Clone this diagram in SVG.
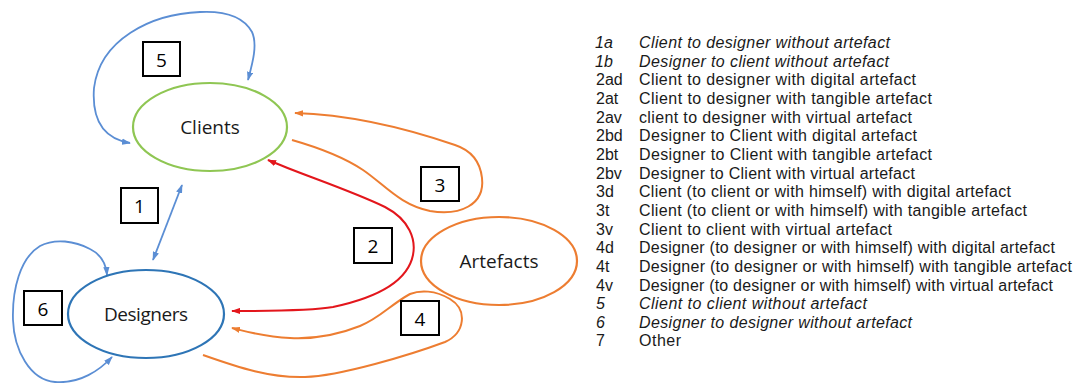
<svg xmlns="http://www.w3.org/2000/svg" width="1078" height="383" viewBox="0 0 1078 383">
<style>
.bg{fill:#ffffff}
.node{fill:none;stroke-width:2.2}
.lbl{font-family:"Open Sans","Liberation Sans",sans-serif;font-size:19px;fill:#1a1a1a;text-anchor:middle}
.box{fill:#ffffff;stroke:#000000;stroke-width:2}
.num{font-family:"Open Sans","Liberation Sans",sans-serif;font-size:19px;fill:#000000;text-anchor:middle}
.blue{fill:none;stroke:#5b8ed4;stroke-width:1.8}
.red{fill:none;stroke:#e3161c;stroke-width:2}
.orange{fill:none;stroke:#ed7d31;stroke-width:2}
.leg{font-family:"Liberation Sans",Arial,sans-serif;font-size:16px;fill:#1a1a1a}
.it{font-style:italic}
</style>
<defs>
<marker id="mb" viewBox="0 0 10 7" refX="9" refY="3.5" markerWidth="9" markerHeight="7" markerUnits="userSpaceOnUse" orient="auto-start-reverse"><path d="M0,0 L10,3.5 L0,7 z" fill="#5b8ed4"/></marker>
<marker id="mr" viewBox="0 0 10 7" refX="9" refY="3.5" markerWidth="9" markerHeight="7" markerUnits="userSpaceOnUse" orient="auto-start-reverse"><path d="M0,0 L10,3.5 L0,7 z" fill="#e3161c"/></marker>
<marker id="mo" viewBox="0 0 10 7" refX="9" refY="3.5" markerWidth="9" markerHeight="7" markerUnits="userSpaceOnUse" orient="auto-start-reverse"><path d="M0,0 L10,3.5 L0,7 z" fill="#ed7d31"/></marker>
</defs>
<rect class="bg" x="0" y="0" width="1078" height="383"/>

<g id="connectors">
<path id="c5" class="blue" d="M248,80 C252,65 258,45 252,32 C242,14 220,11 200,12 C150,14 100,40 94,88 C92,115 100,138 130,143" marker-start="url(#mb)" marker-end="url(#mb)"/>
<path id="c1" class="blue" d="M182,185 L153,260" marker-start="url(#mb)" marker-end="url(#mb)"/>
<path id="c6" class="blue" d="M107,275 C106,262 100,254 90,249 C75,241 55,238 40,246 C20,258 12,290 13,320 C14,350 30,380 55,382 C80,384 100,370 112,357" marker-start="url(#mb)" marker-end="url(#mb)"/>
<path id="c2" class="red" d="M268,160 C300,174 350,190 385,207 C410,220 416,240 413,255 C408,280 380,297 333,307 C310,311 260,311 232,311" marker-start="url(#mr)" marker-end="url(#mr)"/>
<path id="c3" class="orange" d="M292,140 C320,148 345,158 363,170 C385,185 400,205 430,211 C460,216 485,205 482,178 C480,160 470,150 455,145 C420,133 360,115 295,113" marker-end="url(#mo)"/>
<path id="c4" class="orange" d="M203,355 C240,368 270,378 305,377 C340,376 410,355 445,342 C465,333 468,310 450,299 C435,290 420,290 410,294 C390,305 380,318 360,326 C335,336 310,339 290,338 C265,337 248,332 232,328" marker-end="url(#mo)"/>
</g>

<g id="clients">
<ellipse class="node" cx="210" cy="127" rx="77" ry="44" stroke="#8fc653"/>
<text class="lbl" x="210" y="134">Clients</text>
</g>
<g id="designers">
<ellipse class="node" cx="146" cy="314" rx="78" ry="44" stroke="#2e75b6"/>
<text class="lbl" x="146" y="321" textLength="84">Designers</text>
</g>
<g id="artefacts">
<ellipse class="node" cx="499" cy="261" rx="78" ry="44" stroke="#ed7d31"/>
<text class="lbl" x="499" y="268">Artefacts</text>
</g>

<g id="label5"><rect class="box" x="143" y="42" width="37" height="34"/><text class="num" x="161.5" y="66.5">5</text></g>
<g id="label1"><rect class="box" x="121" y="188" width="37" height="35"/><text class="num" x="139.5" y="212.5">1</text></g>
<g id="label6"><rect class="box" x="24" y="291" width="38" height="34"/><text class="num" x="43" y="315.5">6</text></g>
<g id="label2"><rect class="box" x="354" y="228" width="38" height="35"/><text class="num" x="373" y="252.5">2</text></g>
<g id="label3"><rect class="box" x="421" y="167" width="38" height="34"/><text class="num" x="440" y="191.5">3</text></g>
<g id="label4"><rect class="box" x="401" y="301" width="38" height="34"/><text class="num" x="420" y="325.5">4</text></g>

<g id="legend" class="leg">
<text class="it" x="595" y="48">1a</text><text class="it" x="639" y="48" textLength="251">Client to designer without artefact</text>
<text class="it" x="595" y="66.7">1b</text><text class="it" x="639" y="66.7" textLength="250">Designer to client without artefact</text>
<text x="596" y="85.3">2ad</text><text x="639" y="85.3" textLength="277">Client to designer with digital artefact</text>
<text x="596" y="104">2at</text><text x="639" y="104" textLength="293">Client to designer with tangible artefact</text>
<text x="596" y="122.6">2av</text><text x="639" y="122.6" textLength="273">client to designer with virtual artefact</text>
<text x="596" y="141.3">2bd</text><text x="639" y="141.3" textLength="278">Designer to Client with digital artefact</text>
<text x="596" y="159.9">2bt</text><text x="639" y="159.9" textLength="293">Designer to Client with tangible artefact</text>
<text x="596" y="178.6">2bv</text><text x="639" y="178.6" textLength="276">Designer to Client with virtual artefact</text>
<text x="596" y="197.2">3d</text><text x="639" y="197.2" textLength="372">Client (to client or with himself) with digital artefact</text>
<text x="596" y="215.9">3t</text><text x="639" y="215.9" textLength="388">Client (to client or with himself) with tangible artefact</text>
<text x="596" y="234.5">3v</text><text x="639" y="234.5" textLength="253">Client to client with virtual artefact</text>
<text x="596" y="253.2">4d</text><text x="639" y="253.2" textLength="416">Designer (to designer or with himself) with digital artefact</text>
<text x="596" y="271.8">4t</text><text x="639" y="271.8" textLength="433">Designer (to designer or with himself) with tangible artefact</text>
<text x="596" y="290.5">4v</text><text x="639" y="290.5" textLength="414">Designer (to designer or with himself) with virtual artefact</text>
<text class="it" x="596" y="309.1">5</text><text class="it" x="639" y="309.1" textLength="228">Client to client without artefact</text>
<text class="it" x="596" y="327.8">6</text><text class="it" x="639" y="327.8" textLength="273">Designer to designer without artefact</text>
<text x="596" y="346.4">7</text><text x="639" y="346.4" textLength="42">Other</text>
</g>
</svg>
